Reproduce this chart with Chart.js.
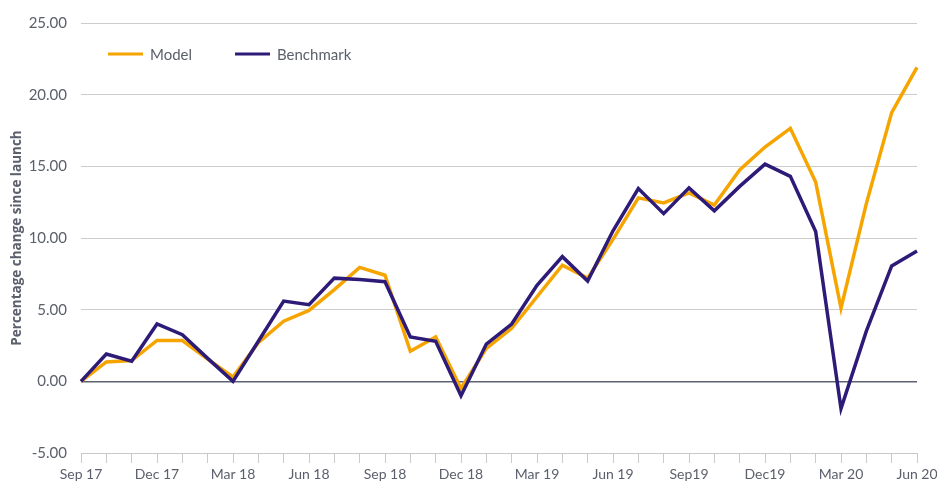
<!DOCTYPE html>
<html>
<head>
<meta charset="utf-8">
<script src="https://cdn.jsdelivr.net/npm/chart.js@4"></script>
<style>
  body { margin: 0; background: #fff; }
  #wrap { position: relative; width: 937px; height: 482px; }
</style>
</head>
<body>
<div id="wrap"><canvas id="chart"></canvas></div>
<script>
// monthly points, Sep 17 .. Jun 20
const months = ['Sep 17', 'Oct 17', 'Nov 17', 'Dec 17', 'Jan 18', 'Feb 18', 'Mar 18', 'Apr 18', 'May 18',
    'Jun 18', 'Jul 18', 'Aug 18', 'Sep 18', 'Oct 18', 'Nov 18', 'Dec 18', 'Jan 19', 'Feb 19', 'Mar 19',
    'Apr 19', 'May 19', 'Jun 19', 'Jul 19', 'Aug 19', 'Sep19', 'Oct 19', 'Nov 19', 'Dec19', 'Jan 20',
    'Feb 20', 'Mar 20', 'Apr 20', 'May 20', 'Jun 20'];
const tickLabels = ['Sep 17', 'Dec 17', 'Mar 18', 'Jun 18', 'Sep 18', 'Dec 18', 'Mar 19', 'Jun 19',
    'Sep19', 'Dec19', 'Mar 20', 'Jun 20'];

const model = [0, 1.35, 1.45, 2.85, 2.85, 1.55, 0.3, 2.7, 4.2, 4.95, 6.4, 7.95, 7.4, 2.1, 3.1, -0.5,
    2.3, 3.7, 5.9, 8.1, 7.2, 9.9, 12.8, 12.45, 13.15, 12.3, 14.75, 16.35, 17.65, 13.9, 5.1, 12.4,
    18.75, 21.9];
const benchmark = [0, 1.9, 1.4, 4.0, 3.25, 1.6, 0.0, 2.8, 5.6, 5.35, 7.2, 7.1, 6.95, 3.1, 2.8, -1.0,
    2.6, 4.0, 6.7, 8.7, 7.0, 10.5, 13.45, 11.7, 13.5, 11.9, 13.6, 15.15, 14.3, 10.45, -1.9, 3.5,
    8.05, 9.1];

const textGrey = '#5b606c';

// legend sits inside the plot, so draw it by hand
const insideLegend = {
    id: 'insideLegend',
    afterDraw(chart) {
        const ctx = chart.ctx;
        const spots = [108, 235];
        ctx.save();
        ctx.font = '15px Lato';
        ctx.textBaseline = 'middle';
        chart.data.datasets.forEach((ds, i) => {
            const x = spots[i], y = 54;
            ctx.strokeStyle = ds.borderColor;
            ctx.lineWidth = 3;
            ctx.beginPath();
            ctx.moveTo(x, y);
            ctx.lineTo(x + 35, y);
            ctx.stroke();
            ctx.fillStyle = textGrey;
            ctx.fillText(ds.label, x + 42, y + 1);
        });
        ctx.restore();
    }
};

const ctx = document.getElementById('chart').getContext('2d');
const chart = new Chart(ctx, {
    type: 'line',
    data: {
        labels: months,
        datasets: [{
            label: 'Model',
            data: model,
            borderColor: '#f6a500',
            borderWidth: 3.5,
            pointRadius: 0,
            tension: 0,
            order: 1,
        }, {
            label: 'Benchmark',
            data: benchmark,
            borderColor: '#2e1b78',
            borderWidth: 3.5,
            pointRadius: 0,
            tension: 0,
            order: 0,
        }]
    },
    options: {
        responsive: true,
        maintainAspectRatio: false,
        animation: false,
        layout: { padding: { top: 21, right: 20, left: 0, bottom: 0 } },
        plugins: {
            legend: { display: false },
            tooltip: { enabled: false },
        },
        scales: {
            x: {
                offset: false,
                grid: {
                    drawOnChartArea: false,
                    tickLength: 10,
                    color: '#c9c9c9',
                },
                border: { display: true, color: '#c9c9c9' },
                ticks: {
                    autoSkip: false,
                    maxRotation: 0,
                    padding: 3,
                    color: textGrey,
                    font: { family: 'Lato', size: 14 },
                    callback: function (v, i) {
                        const l = months[i];
                        return tickLabels.includes(l) ? l : '';
                    }
                },
                afterFit: s => { s.height = 29; s.paddingRight = 0; },
            },
            y: {
                min: -5,
                max: 25,
                border: { display: false },
                grid: {
                    drawTicks: false,
                    color: c => c.tick && c.tick.value === 0 ? '#5d6270' : '#cccccc',
                    lineWidth: c => c.tick && c.tick.value === 0 ? 1.6 : 1,
                },
                ticks: {
                    stepSize: 5,
                    padding: 14,
                    color: textGrey,
                    font: { family: 'Lato', size: 15 },
                    callback: v => v.toFixed(2),
                },
                title: {
                    display: true,
                    text: 'Percentage change since launch',
                    color: textGrey,
                    font: { family: 'Open Sans', size: 13.5, weight: 'bold' },
                    padding: { top: 9, bottom: 0 },
                },
                afterFit: s => { s.width = 81; },
            }
        }
    },
    plugins: [insideLegend]
});
</script>
</body>
</html>
